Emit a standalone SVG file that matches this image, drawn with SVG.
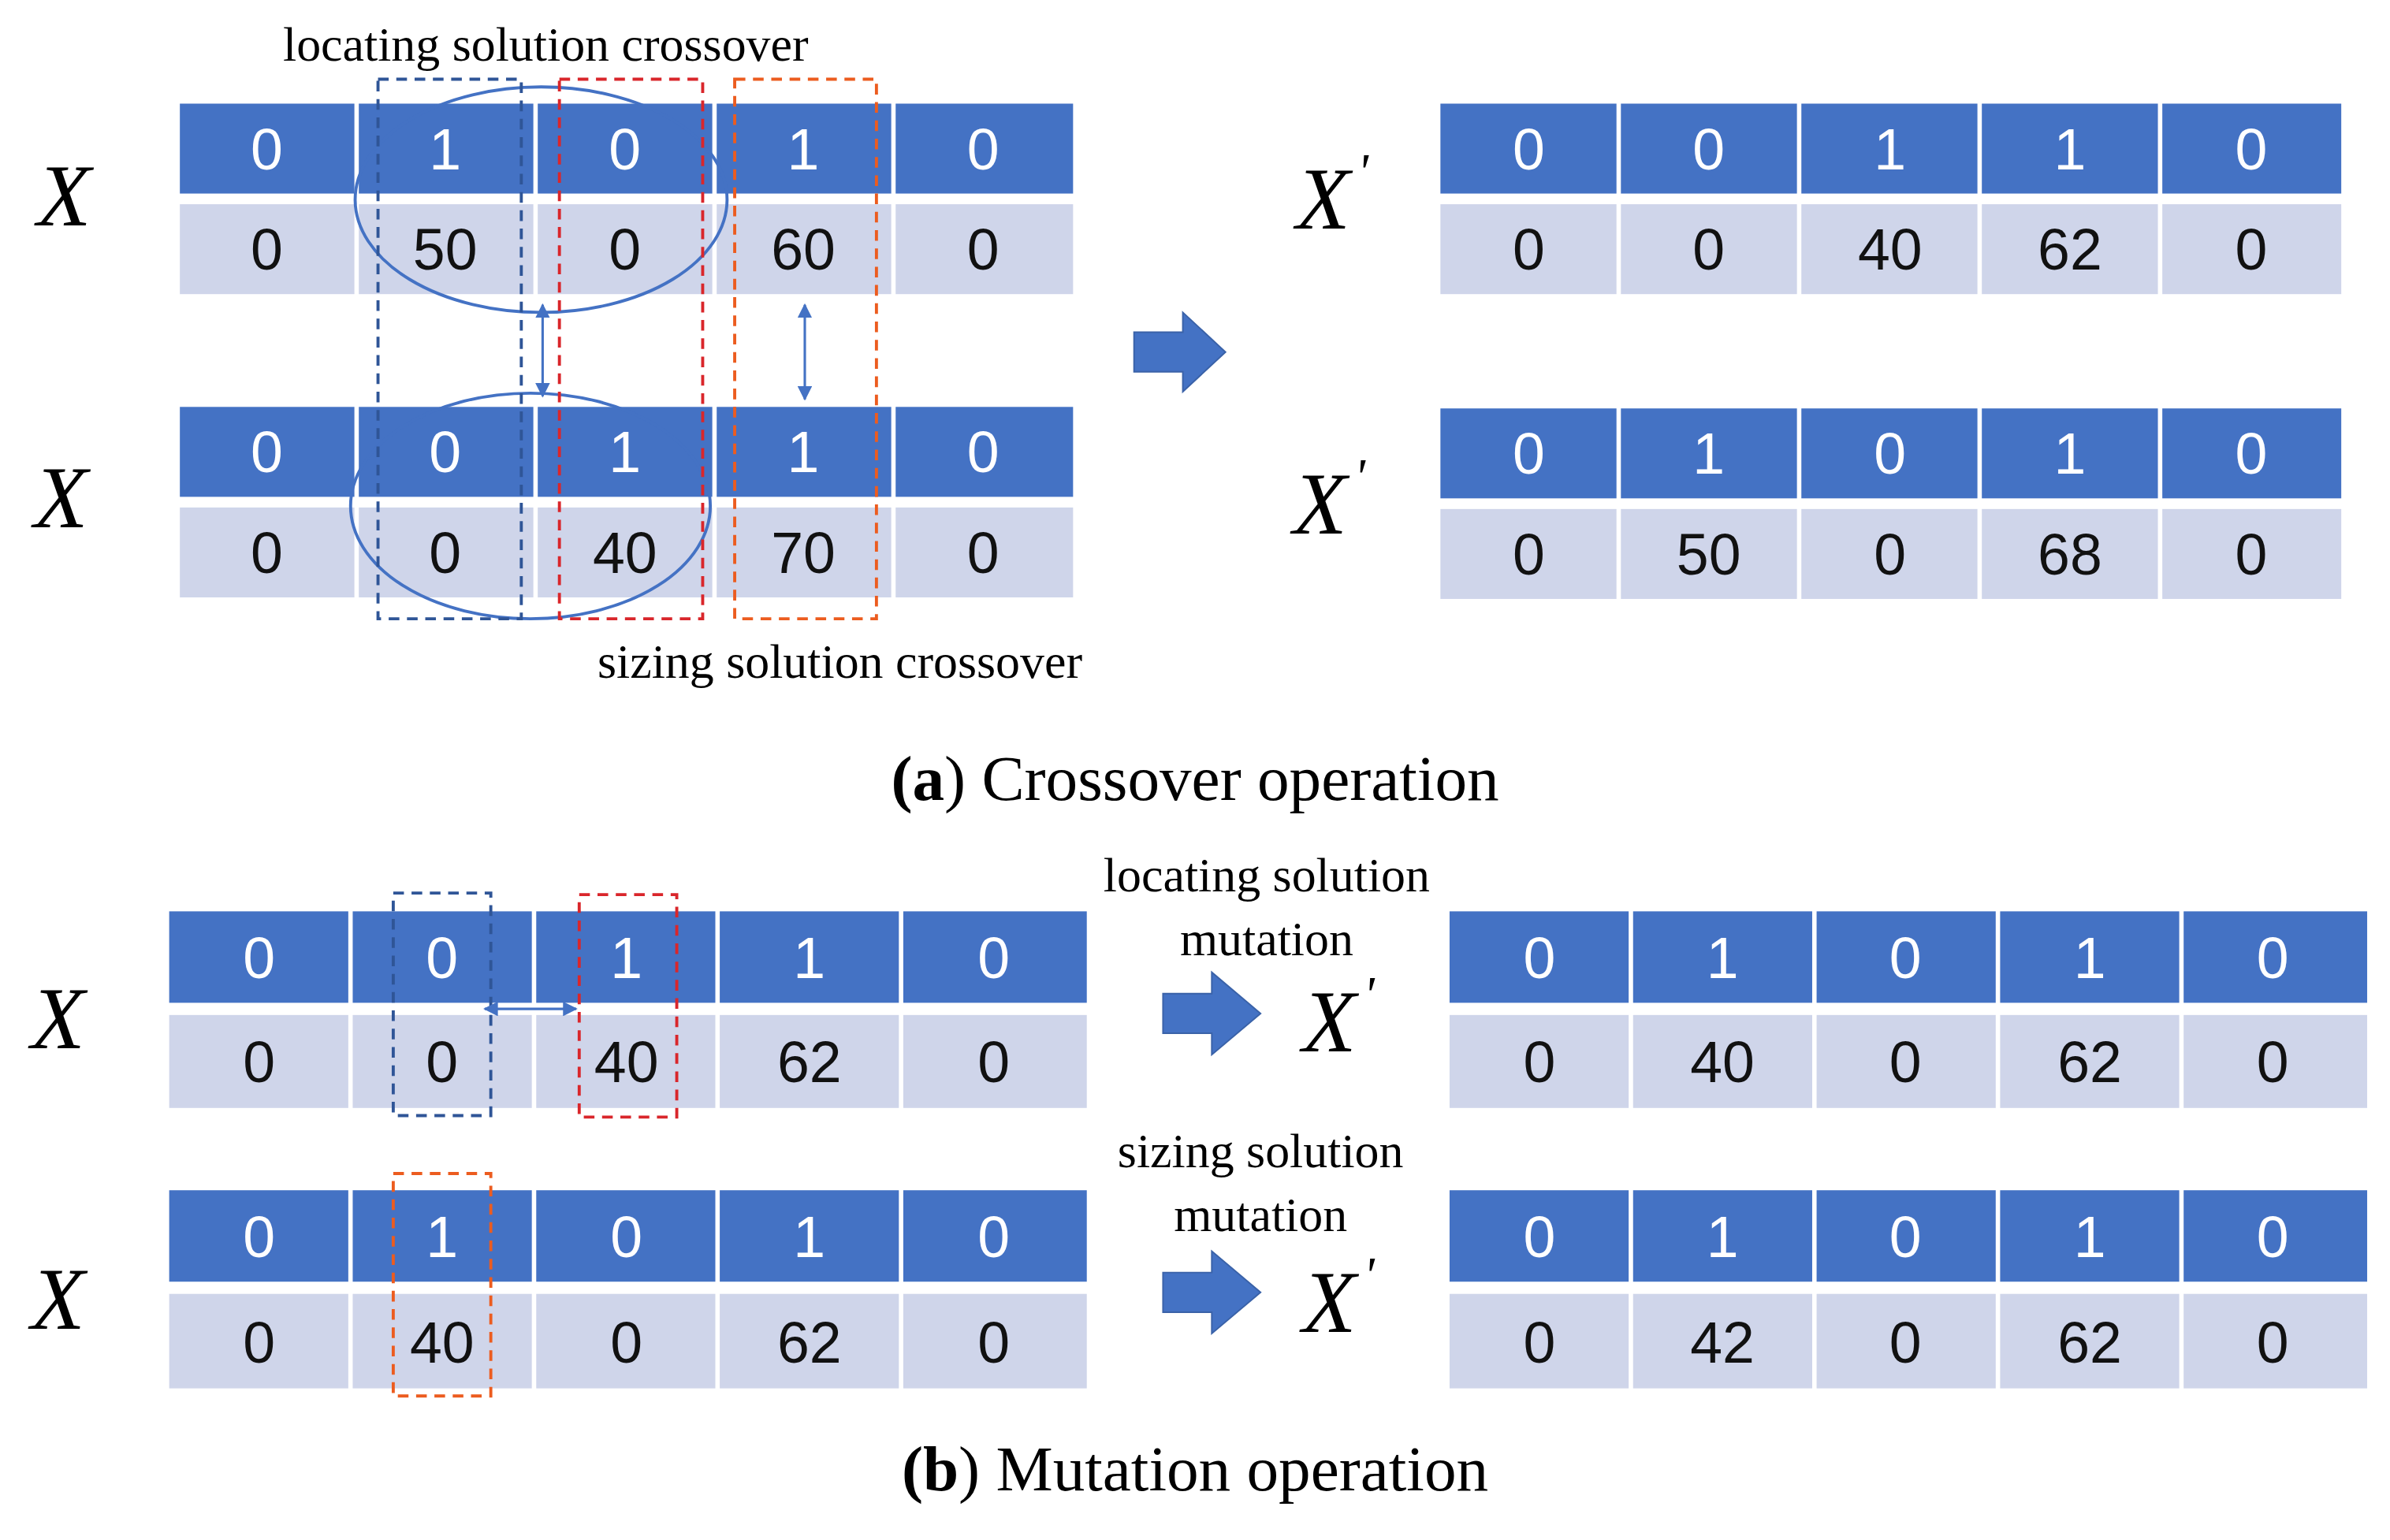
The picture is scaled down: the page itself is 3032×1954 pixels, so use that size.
<svg xmlns="http://www.w3.org/2000/svg" width="3032" height="1954" viewBox="0 0 3032 1954">
<style>
.d{fill:#4472C4}.l{fill:#CFD5EA}
.n{font-family:"Liberation Sans",Arial,sans-serif;font-size:38px;text-anchor:middle}
.w{fill:#fff}.k{fill:#111}
.x{font-family:"Liberation Serif","Times New Roman",serif;font-style:italic;font-size:58px;text-anchor:middle}
.t{font-family:"Liberation Serif","Times New Roman",serif;font-size:32px;text-anchor:middle}
.c{font-family:"Liberation Serif","Times New Roman",serif;font-size:42px;text-anchor:middle}
.db{fill:none;stroke:#2F5597;stroke-width:2;stroke-dasharray:7,5}
.dr{fill:none;stroke:#D9262B;stroke-width:2;stroke-dasharray:7,5}
.do{fill:none;stroke:#EC5C1F;stroke-width:2;stroke-dasharray:7,5}
.el{fill:none;stroke:#4472C4;stroke-width:2}
.ar{fill:none;stroke:#4472C4;stroke-width:1.6;marker-start:url(#h);marker-end:url(#h)}
.big{fill:#4472C4;stroke:#3A62A8;stroke-width:1}
</style>
<defs>
<marker id="h" viewBox="0 0 10 10" refX="9" refY="5" markerWidth="6" markerHeight="6" orient="auto-start-reverse"><path d="M0,0L10,5L0,10z" fill="#4472C4"/></marker>
</defs>
<rect width="3032" height="1954" fill="#fff"/>
<g transform="scale(1.9337)">
<g id="tableX1">
<rect class="d" x="118" y="68" width="114.5" height="59"/><rect class="d" x="235.4" y="68" width="114.5" height="59"/><rect class="d" x="352.8" y="68" width="114.5" height="59"/><rect class="d" x="470.2" y="68" width="114.5" height="59"/><rect class="d" x="587.6" y="68" width="116.4" height="59"/>
<rect class="l" x="118" y="134" width="114.5" height="59"/><rect class="l" x="235.4" y="134" width="114.5" height="59"/><rect class="l" x="352.8" y="134" width="114.5" height="59"/><rect class="l" x="470.2" y="134" width="114.5" height="59"/><rect class="l" x="587.6" y="134" width="116.4" height="59"/>
<text class="n w" x="175" y="111">0</text><text class="n w" x="292" y="111">1</text><text class="n w" x="410" y="111">0</text><text class="n w" x="527" y="111">1</text><text class="n w" x="645" y="111">0</text>
<text class="n k" x="175" y="177">0</text><text class="n k" x="292" y="177">50</text><text class="n k" x="410" y="177">0</text><text class="n k" x="527" y="177">60</text><text class="n k" x="645" y="177">0</text>
<text class="x" x="42" y="148">X</text>
</g>
<g id="tableX2">
<rect class="d" x="118" y="267" width="114.5" height="59"/><rect class="d" x="235.4" y="267" width="114.5" height="59"/><rect class="d" x="352.8" y="267" width="114.5" height="59"/><rect class="d" x="470.2" y="267" width="114.5" height="59"/><rect class="d" x="587.6" y="267" width="116.4" height="59"/>
<rect class="l" x="118" y="333" width="114.5" height="59"/><rect class="l" x="235.4" y="333" width="114.5" height="59"/><rect class="l" x="352.8" y="333" width="114.5" height="59"/><rect class="l" x="470.2" y="333" width="114.5" height="59"/><rect class="l" x="587.6" y="333" width="116.4" height="59"/>
<text class="n w" x="175" y="310">0</text><text class="n w" x="292" y="310">0</text><text class="n w" x="410" y="310">1</text><text class="n w" x="527" y="310">1</text><text class="n w" x="645" y="310">0</text>
<text class="n k" x="175" y="376">0</text><text class="n k" x="292" y="376">0</text><text class="n k" x="410" y="376">40</text><text class="n k" x="527" y="376">70</text><text class="n k" x="645" y="376">0</text>
<text class="x" x="40" y="346">X</text>
</g>
<g id="tableXp1">
<rect class="d" x="945" y="68" width="115.5" height="59"/><rect class="d" x="1063.4" y="68" width="115.5" height="59"/><rect class="d" x="1181.8" y="68" width="115.5" height="59"/><rect class="d" x="1300.2" y="68" width="115.5" height="59"/><rect class="d" x="1418.6" y="68" width="117.4" height="59"/>
<rect class="l" x="945" y="134" width="115.5" height="59"/><rect class="l" x="1063.4" y="134" width="115.5" height="59"/><rect class="l" x="1181.8" y="134" width="115.5" height="59"/><rect class="l" x="1300.2" y="134" width="115.5" height="59"/><rect class="l" x="1418.6" y="134" width="117.4" height="59"/>
<text class="n w" x="1003" y="111">0</text><text class="n w" x="1121" y="111">0</text><text class="n w" x="1240" y="111">1</text><text class="n w" x="1358" y="111">1</text><text class="n w" x="1477" y="111">0</text>
<text class="n k" x="1003" y="177">0</text><text class="n k" x="1121" y="177">0</text><text class="n k" x="1240" y="177">40</text><text class="n k" x="1358" y="177">62</text><text class="n k" x="1477" y="177">0</text>
<text class="x" x="868" y="150">X</text><text class="x" x="894" y="124" style="font-size:34px">'</text>
</g>
<g id="tableXp2">
<rect class="d" x="945" y="268" width="115.5" height="59"/><rect class="d" x="1063.4" y="268" width="115.5" height="59"/><rect class="d" x="1181.8" y="268" width="115.5" height="59"/><rect class="d" x="1300.2" y="268" width="115.5" height="59"/><rect class="d" x="1418.6" y="268" width="117.4" height="59"/>
<rect class="l" x="945" y="334" width="115.5" height="59"/><rect class="l" x="1063.4" y="334" width="115.5" height="59"/><rect class="l" x="1181.8" y="334" width="115.5" height="59"/><rect class="l" x="1300.2" y="334" width="115.5" height="59"/><rect class="l" x="1418.6" y="334" width="117.4" height="59"/>
<text class="n w" x="1003" y="311">0</text><text class="n w" x="1121" y="311">1</text><text class="n w" x="1240" y="311">0</text><text class="n w" x="1358" y="311">1</text><text class="n w" x="1477" y="311">0</text>
<text class="n k" x="1003" y="377">0</text><text class="n k" x="1121" y="377">50</text><text class="n k" x="1240" y="377">0</text><text class="n k" x="1358" y="377">68</text><text class="n k" x="1477" y="377">0</text>
<text class="x" x="866" y="350">X</text><text class="x" x="892" y="324" style="font-size:34px">'</text>
</g>
<g id="crossoverMarks">
<ellipse class="el" cx="355" cy="131" rx="122" ry="74"/>
<ellipse class="el" cx="348" cy="332" rx="118" ry="74"/>
<rect class="db" x="248" y="52" width="94" height="354"/>
<rect class="dr" x="367" y="52" width="94" height="354"/>
<rect class="do" x="482" y="52" width="93" height="354"/>
<text class="t" x="358" y="40">locating  solution crossover</text>
<text class="t" x="551" y="445">sizing  solution crossover</text>
<text class="c" x="784" y="525"><tspan font-weight="bold">(a</tspan>) Crossover operation</text>
</g>
<g id="tableM1">
<rect class="d" x="111" y="598" width="117.5" height="60"/><rect class="d" x="231.4" y="598" width="117.5" height="60"/><rect class="d" x="351.8" y="598" width="117.5" height="60"/><rect class="d" x="472.2" y="598" width="117.5" height="60"/><rect class="d" x="592.6" y="598" width="120.4" height="60"/>
<rect class="l" x="111" y="666" width="117.5" height="61"/><rect class="l" x="231.4" y="666" width="117.5" height="61"/><rect class="l" x="351.8" y="666" width="117.5" height="61"/><rect class="l" x="472.2" y="666" width="117.5" height="61"/><rect class="l" x="592.6" y="666" width="120.4" height="61"/>
<text class="n w" x="170" y="642">0</text><text class="n w" x="290" y="642">0</text><text class="n w" x="411" y="642">1</text><text class="n w" x="531" y="642">1</text><text class="n w" x="652" y="642">0</text>
<text class="n k" x="170" y="710">0</text><text class="n k" x="290" y="710">0</text><text class="n k" x="411" y="710">40</text><text class="n k" x="531" y="710">62</text><text class="n k" x="652" y="710">0</text>
<text class="x" x="38" y="688">X</text>
</g>
<g id="tableM2">
<rect class="d" x="111" y="781" width="117.5" height="60"/><rect class="d" x="231.4" y="781" width="117.5" height="60"/><rect class="d" x="351.8" y="781" width="117.5" height="60"/><rect class="d" x="472.2" y="781" width="117.5" height="60"/><rect class="d" x="592.6" y="781" width="120.4" height="60"/>
<rect class="l" x="111" y="849" width="117.5" height="62"/><rect class="l" x="231.4" y="849" width="117.5" height="62"/><rect class="l" x="351.8" y="849" width="117.5" height="62"/><rect class="l" x="472.2" y="849" width="117.5" height="62"/><rect class="l" x="592.6" y="849" width="120.4" height="62"/>
<text class="n w" x="170" y="825">0</text><text class="n w" x="290" y="825">1</text><text class="n w" x="411" y="825">0</text><text class="n w" x="531" y="825">1</text><text class="n w" x="652" y="825">0</text>
<text class="n k" x="170" y="894">0</text><text class="n k" x="290" y="894">40</text><text class="n k" x="411" y="894">0</text><text class="n k" x="531" y="894">62</text><text class="n k" x="652" y="894">0</text>
<text class="x" x="38" y="872">X</text>
</g>
<g id="tableMp1">
<rect class="d" x="951" y="598" width="117.5" height="60"/><rect class="d" x="1071.4" y="598" width="117.5" height="60"/><rect class="d" x="1191.8" y="598" width="117.5" height="60"/><rect class="d" x="1312.2" y="598" width="117.5" height="60"/><rect class="d" x="1432.6" y="598" width="120.4" height="60"/>
<rect class="l" x="951" y="666" width="117.5" height="61"/><rect class="l" x="1071.4" y="666" width="117.5" height="61"/><rect class="l" x="1191.8" y="666" width="117.5" height="61"/><rect class="l" x="1312.2" y="666" width="117.5" height="61"/><rect class="l" x="1432.6" y="666" width="120.4" height="61"/>
<text class="n w" x="1010" y="642">0</text><text class="n w" x="1130" y="642">1</text><text class="n w" x="1250" y="642">0</text><text class="n w" x="1371" y="642">1</text><text class="n w" x="1491" y="642">0</text>
<text class="n k" x="1010" y="710">0</text><text class="n k" x="1130" y="710">40</text><text class="n k" x="1250" y="710">0</text><text class="n k" x="1371" y="710">62</text><text class="n k" x="1491" y="710">0</text>
<text class="x" x="872" y="690">X</text><text class="x" x="898" y="664" style="font-size:34px">'</text>
</g>
<g id="tableMp2">
<rect class="d" x="951" y="781" width="117.5" height="60"/><rect class="d" x="1071.4" y="781" width="117.5" height="60"/><rect class="d" x="1191.8" y="781" width="117.5" height="60"/><rect class="d" x="1312.2" y="781" width="117.5" height="60"/><rect class="d" x="1432.6" y="781" width="120.4" height="60"/>
<rect class="l" x="951" y="849" width="117.5" height="62"/><rect class="l" x="1071.4" y="849" width="117.5" height="62"/><rect class="l" x="1191.8" y="849" width="117.5" height="62"/><rect class="l" x="1312.2" y="849" width="117.5" height="62"/><rect class="l" x="1432.6" y="849" width="120.4" height="62"/>
<text class="n w" x="1010" y="825">0</text><text class="n w" x="1130" y="825">1</text><text class="n w" x="1250" y="825">0</text><text class="n w" x="1371" y="825">1</text><text class="n w" x="1491" y="825">0</text>
<text class="n k" x="1010" y="894">0</text><text class="n k" x="1130" y="894">42</text><text class="n k" x="1250" y="894">0</text><text class="n k" x="1371" y="894">62</text><text class="n k" x="1491" y="894">0</text>
<text class="x" x="872" y="874">X</text><text class="x" x="898" y="848" style="font-size:34px">'</text>
</g>
<g id="mutationMarks">
<rect class="db" x="258" y="586" width="64" height="146"/>
<rect class="dr" x="380" y="587" width="64" height="146"/>
<rect class="do" x="258" y="770" width="64" height="146"/>
<text class="t" x="831" y="585">locating  solution</text>
<text class="t" x="831" y="627">mutation</text>
<text class="t" x="827" y="766">sizing  solution</text>
<text class="t" x="827" y="808">mutation</text>
<text class="c" x="784" y="978"><tspan font-weight="bold">(b</tspan>) Mutation operation</text>
</g>
<g id="connectors">
<line class="ar" x1="356" y1="200" x2="356" y2="260"/>
<line class="ar" x1="528" y1="200" x2="528" y2="262"/>
<line class="ar" x1="318" y1="662" x2="378" y2="662"/>
<polygon class="big" points="744,218 776,218 776,205 804,231 776,257 776,244 744,244"/>
<polygon class="big" points="763,652 795,652 795,638 827,665 795,692 795,678 763,678"/>
<polygon class="big" points="763,835 795,835 795,821 827,848 795,875 795,861 763,861"/>
</g>
</g>
</svg>
